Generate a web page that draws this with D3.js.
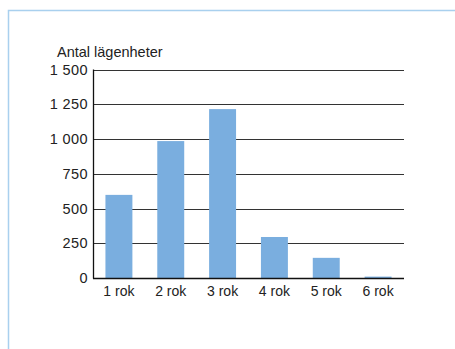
<!DOCTYPE html>
<html>
<head>
<meta charset="utf-8">
<script src="https://cdn.jsdelivr.net/npm/d3@7/dist/d3.min.js"></script>
<style>
  html, body { margin: 0; padding: 0; background: #fff; }
  svg { display: block; }
  text { font-family: "Liberation Sans", Arial, sans-serif; fill: #222; }
</style>
</head>
<body>
<script>
// Apartments by number of rooms
const categories = ["1 rok", "2 rok", "3 rok", "4 rok", "5 rok", "6 rok"];
const values = [598, 985, 1215, 295, 145, 10];
const yTicks = [0, 250, 500, 750, 1000, 1250, 1500];
const yTitle = "Antal lägenheter";

const W = 455, H = 349;
const svg = d3.select("body").append("svg").attr("width", W).attr("height", H);

// Panel frame (top and left edges)
svg.append("path")
  .attr("d", `M8.5,${H} V10.5 H${W}`)
  .attr("fill", "none")
  .attr("stroke", "#a9d0ee")
  .attr("stroke-width", 1.5);

const plotLeft = 93, plotRight = 404, plotTop = 69.5, plotBottom = 278;

const x = d3.scaleBand().domain(categories).range([plotLeft, plotRight])
  .paddingInner(0.48).paddingOuter(0.24);
const y = d3.scaleLinear().domain([0, 1500]).range([plotBottom, plotTop]);

// Gridlines
svg.append("g").selectAll("line").data(yTicks.filter(d => d > 0)).join("line")
  .attr("x1", plotLeft).attr("x2", plotRight)
  .attr("y1", d => Math.round(y(d)) + 0.5).attr("y2", d => Math.round(y(d)) + 0.5)
  .attr("stroke", "#333").attr("stroke-width", 1.2);

// Bars
svg.append("g").selectAll("rect").data(values).join("rect")
  .attr("x", (d, i) => x(categories[i]))
  .attr("width", x.bandwidth())
  .attr("y", d => y(d))
  .attr("height", d => y(0) - y(d))
  .attr("fill", "#7aaedf");

// Y axis line and baseline
svg.append("line").attr("x1", plotLeft + 0.5).attr("x2", plotLeft + 0.5)
  .attr("y1", plotTop).attr("y2", plotBottom + 0.5).attr("stroke", "#111").attr("stroke-width", 1.3);
svg.append("line").attr("x1", plotLeft).attr("x2", plotRight)
  .attr("y1", plotBottom + 0.5).attr("y2", plotBottom + 0.5).attr("stroke", "#111").attr("stroke-width", 1.3);

// Y tick labels (space as thousands separator)
svg.append("g").selectAll("text").data(yTicks).join("text")
  .attr("x", 88)
  .attr("y", d => y(d))
  .attr("dy", "0.36em")
  .attr("text-anchor", "end")
  .attr("font-size", 14.5)
  .attr("letter-spacing", 0.4)
  .text(d => d3.format(",")(d).replace(/,/g, " "));

// X category labels
svg.append("g").selectAll("text").data(categories).join("text")
  .attr("x", d => x(d) + x.bandwidth() / 2)
  .attr("y", 295.5)
  .attr("text-anchor", "middle")
  .attr("font-size", 14)
  .text(d => d);

// Y axis title
svg.append("text")
  .attr("x", 57).attr("y", 57)
  .attr("font-size", 14.5)
  .text(yTitle);
</script>
</body>
</html>
